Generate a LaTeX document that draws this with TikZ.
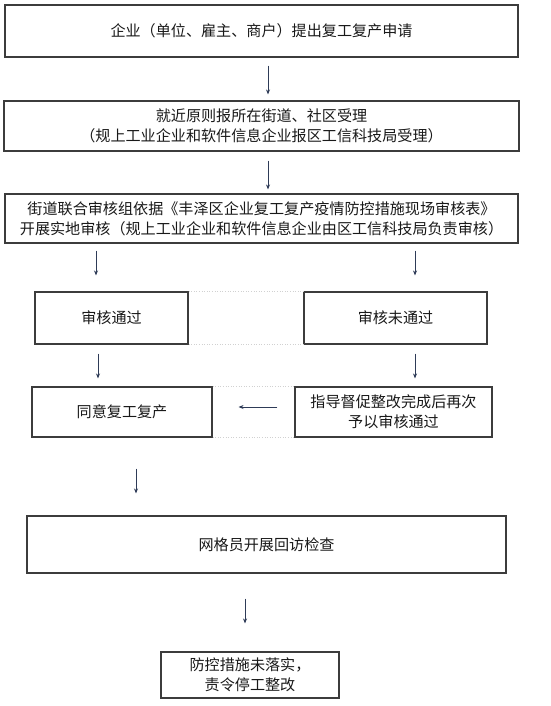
\documentclass[tikz,border=0pt]{standalone}
\usepackage{fontspec}
\setmainfont{Noto Sans CJK SC}
\usepackage{tikz}
\usetikzlibrary{arrows.meta}
\definecolor{arrowblue}{HTML}{2E3B57}
\definecolor{boxline}{HTML}{3C3C3C}

\begin{document}
\begin{tikzpicture}[x=1pt,y=-1pt,>={Stealth[length=5pt,width=4pt]},
  font=\fontsize{15.1}{20}\selectfont,
  box/.style={rectangle,draw=boxline,line width=1.1pt,fill=white,text=black!90,inner sep=0pt,align=center},
  arr/.style={->,draw=arrowblue,line width=0.8pt},
  grid/.style={draw=black!18,line width=0.6pt,dotted}]
\useasboundingbox[fill=white] (0,0) rectangle (550,706);
\node[box,minimum width=513pt,minimum height=52pt] (apply) at (261.5,31) {企业（单位、雇主、商户）提出复工复产申请};
\node[box,minimum width=515pt,minimum height=50pt] (accept) at (261.5,126) {就近原则报所在街道、社区受理\\（规上工业企业和软件信息企业报区工信科技局受理）};
\node[box,minimum width=513pt,minimum height=49pt] (review) at (261.5,218.5) {街道联合审核组依据《丰泽区企业复工复产疫情防控措施现场审核表》\\开展实地审核（规上工业企业和软件信息企业由区工信科技局负责审核）};
\node[box,minimum width=153pt,minimum height=52pt] (pass) at (111.5,318) {审核通过};
\node[box,minimum width=183pt,minimum height=52pt] (fail) at (395.5,318) {审核未通过};
\node[box,minimum width=180pt,minimum height=50pt] (resume) at (122,412) {同意复工复产};
\node[box,minimum width=197pt,minimum height=50pt] (rectify) at (393.5,412) {指导督促整改完成后再次\\予以审核通过};
\node[box,minimum width=479pt,minimum height=57pt] (revisit) at (266.5,544.5) {网格员开展回访检查};
\node[box,minimum width=178pt,minimum height=46pt] (halt) at (250,675) {防控措施未落实，\\责令停工整改};
% faint table lines
\draw[grid] (pass.north east) -- (fail.north west);
\draw[grid] (pass.south east) -- (fail.south west);
\draw[grid] (resume.north east) -- (rectify.north west);
\draw[grid] (resume.south east) -- (rectify.south west);
% arrows
\draw[arr,shorten <=8pt,shorten >=6pt] (apply.south -| 268,0) -- (accept.north -| 268,0);
\draw[arr,shorten <=9pt,shorten >=4pt] (accept.south -| 268,0) -- (review.north -| 268,0);
\draw[arr,shorten <=7pt,shorten >=16pt] (review.south -| 96,0) -- (pass.north -| 96,0);
\draw[arr,shorten <=7pt,shorten >=16pt] (review.south -| 415,0) -- (fail.north -| 415,0);
\draw[arr,shorten <=9pt,shorten >=8pt] (pass.south -| 98,0) -- (resume.north -| 98,0);
\draw[arr,shorten <=9pt,shorten >=8pt] (fail.south -| 415,0) -- (rectify.north -| 415,0);
\draw[arr,shorten <=17pt,shorten >=26pt] (rectify.west |- 0,407) -- (resume.east |- 0,407);
\draw[arr,shorten <=31pt,shorten >=22pt] (resume.south -| 136,0) -- (revisit.north -| 136,0);
\draw[arr,shorten <=25pt,shorten >=28pt] (revisit.south -| 245,0) -- (halt.north -| 245,0);
\end{tikzpicture}
\end{document}
